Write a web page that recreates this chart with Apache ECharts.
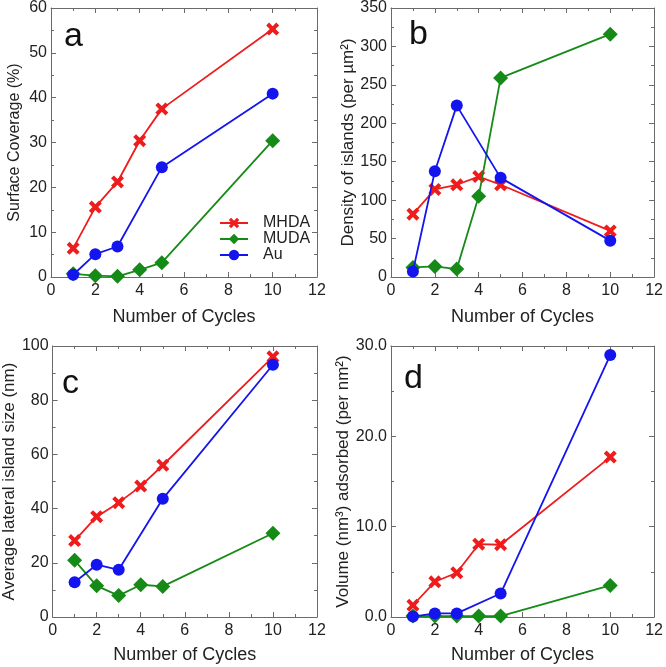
<!DOCTYPE html>
<html><head><meta charset="utf-8">
<script src="https://cdn.jsdelivr.net/npm/echarts@6/dist/echarts.min.js"></script>
<style>html,body{margin:0;padding:0;background:#fff}#c{width:666px;height:667px}</style>
</head><body><div id="c"></div>
<script>
const cycles = [1, 2, 3, 4, 5, 10];
const seriesNames = ['MHDA', 'MUDA', 'Au'];
// Panel a: Surface Coverage (%)
const coverageMHDA = [6.4, 15.6, 21.2, 30.4, 37.5, 55.3];
const coverageMUDA = [0.7, 0.3, 0.15, 1.6, 3.2, 30.4];
const coverageAu   = [0.5, 5.1, 6.8, null, 24.5, 40.9];
// Panel b: Density of islands
const densityMHDA = [81.7, 114, 120, 130.7, 120, 60];
const densityMUDA = [12.5, 13.8, 10.3, 105, 259, 316];
const densityAu   = [7.3, 137.6, 223, null, 129, 47.3];
// Panel c: Average lateral island size (nm)
const sizeMHDA = [28.2, 37, 42.2, 48.3, 56, 96];
const sizeMUDA = [20.9, 11.5, 7.9, 11.9, 11.3, 30.9];
const sizeAu   = [12.8, 19.3, 17.4, null, 43.6, 93.1];
// Panel d: Volume adsorbed
const volumeMHDA = [1.3, 3.9, 4.9, 8.06, 8.0, 17.7];
const volumeMUDA = [0.1, 0.1, 0.1, 0.1, 0.1, 3.5];
const volumeAu   = [0.05, 0.4, 0.4, null, 2.6, 29];
// Axes
const xTicks = {min: 0, max: 12, interval: 2};
const yTicksA = {min: 0, max: 60, interval: 10};
const yTicksB = {min: 0, max: 350, interval: 50};
const yTicksC = {min: 0, max: 100, interval: 20};
const yTicksD = {min: 0, max: 30, interval: 10};
const xTitle = 'Number of Cycles';
const yTitles = ['Surface Coverage (%)', 'Density of islands (per µm²)', 'Average lateral island size (nm)', 'Volume (nm³) adsorbed (per nm²)'];
const panelLetters = ['a', 'b', 'c', 'd'];

const FONT = 'Liberation Sans, Arial, sans-serif';
const TXT = '#222';
const AX = '#6a6a6a';
const colors = ['#ee1c1c', '#168a16', '#1414ee'];
const xPath = 'path://M2.2,0 L5,2.8 L7.8,0 L10,2.2 L7.2,5 L10,7.8 L7.8,10 L5,7.2 L2.2,10 L0,7.8 L2.8,5 L0,2.2 Z';
const symbols = [xPath, 'diamond', 'circle'];
const symSizes = [13, 15, 12];

const grids = [
  {left: 51, top: 7, width: 266, height: 270},
  {left: 391, top: 7, width: 265, height: 270},
  {left: 51, top: 346, width: 266, height: 271},
  {left: 391, top: 346, width: 265, height: 271}
];
const yRanges = [yTicksA, yTicksB, yTicksC, yTicksD];
const yGaps = [28, 34, 29, 37];
const yNameSizes = [16, 17, 17, 17];
const xGaps = [31, 31, 29, 29];
const panelData = [
  [coverageMHDA, coverageMUDA, coverageAu],
  [densityMHDA, densityMUDA, densityAu],
  [sizeMHDA, sizeMUDA, sizeAu],
  [volumeMHDA, volumeMUDA, volumeAu]
];

const common = {
  axisLine: {show: true, onZero: false, lineStyle: {color: AX, width: 1}},
  axisTick: {show: true, inside: true, length: 5, lineStyle: {color: AX}},
  minorTick: {show: true, splitNumber: 2, length: 3, lineStyle: {color: AX}},
  splitLine: {show: false}
};

const xAxis = [], yAxis = [], series = [], graphic = [];
grids.forEach((g, i) => {
  xAxis.push(Object.assign({}, common, {
    type: 'value', gridIndex: i, min: xTicks.min, max: xTicks.max, interval: xTicks.interval,
    name: xTitle, nameLocation: 'middle', nameGap: xGaps[i],
    nameTextStyle: {fontFamily: FONT, fontSize: 18, color: TXT},
    axisLabel: {fontFamily: FONT, fontSize: 16, color: TXT, margin: 6}
  }));
  xAxis.push(Object.assign({}, common, {
    type: 'value', gridIndex: i, position: 'top', min: xTicks.min, max: xTicks.max, interval: xTicks.interval,
    axisLabel: {show: false}
  }));
  const yr = yRanges[i];
  yAxis.push(Object.assign({}, common, {
    type: 'value', gridIndex: i, min: yr.min, max: yr.max, interval: yr.interval,
    name: yTitles[i], nameLocation: 'middle', nameGap: yGaps[i],
    nameTextStyle: {fontFamily: FONT, fontSize: yNameSizes[i], color: TXT},
    axisLabel: {fontFamily: FONT, fontSize: 16, color: TXT, margin: 4,
      formatter: i === 3 ? (v => v.toFixed(1)) : (v => String(v))}
  }));
  yAxis.push(Object.assign({}, common, {
    type: 'value', gridIndex: i, position: 'right', min: yr.min, max: yr.max, interval: yr.interval,
    axisLabel: {show: false}
  }));
  panelData[i].forEach((vals, s) => {
    const data = [];
    cycles.forEach((c, k) => { if (vals[k] !== null) data.push([c, vals[k]]); });
    series.push({
      type: 'line', name: seriesNames[s], xAxisIndex: i * 2, yAxisIndex: i * 2,
      data: data, symbol: symbols[s], symbolSize: symSizes[s], showAllSymbol: true,
      color: colors[s], lineStyle: {width: 1.8, color: colors[s]},
      itemStyle: {color: colors[s]}, z: 3 + s, animation: false
    });
  });
});

const letterPos = [[64, 20], [409, 18], [62, 367], [404, 362]];
panelLetters.forEach((L, i) => {
  graphic.push({type: 'text', left: letterPos[i][0], top: letterPos[i][1],
    style: {text: L, fontFamily: FONT, fontSize: 34, fill: '#111'}});
});

const chart = echarts.init(document.getElementById('c'), null, {renderer: 'canvas'});
chart.setOption({
  animation: false,
  grid: grids.map(g => Object.assign({}, g, {containLabel: false})),
  xAxis: xAxis, yAxis: yAxis, series: series, graphic: graphic,
  legend: {
    data: seriesNames, orient: 'vertical', left: 214, top: 210,
    itemWidth: 28, itemHeight: 13, itemGap: 0,
    textStyle: {fontFamily: FONT, fontSize: 16, color: TXT, padding: [0, 0, 0, 10]}
  }
});
</script></body></html>
